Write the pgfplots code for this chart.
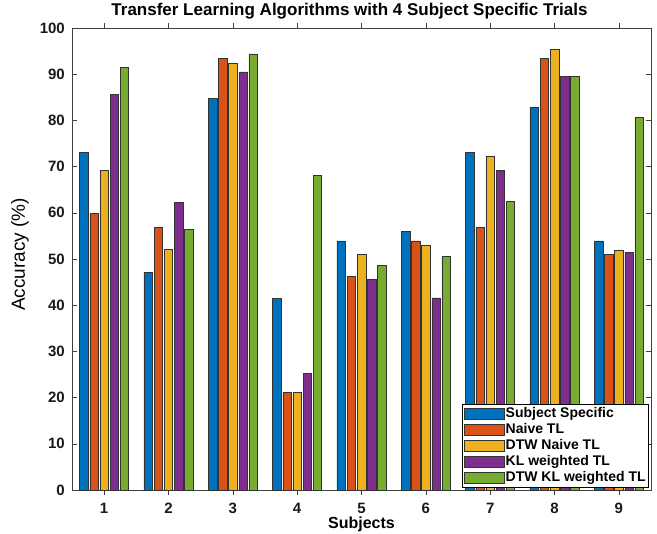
\documentclass[border=0pt]{standalone}
\usepackage{fontspec}
\setmainfont{Liberation Sans}
\usepackage{pgfplots}
\pgfplotsset{compat=1.18}
\definecolor{c1}{rgb}{0,0.447,0.741}
\definecolor{c2}{rgb}{0.85,0.325,0.098}
\definecolor{c3}{rgb}{0.929,0.694,0.125}
\definecolor{c4}{rgb}{0.494,0.184,0.556}
\definecolor{c5}{rgb}{0.466,0.674,0.188}
\begin{document}
\begin{tikzpicture}
\begin{axis}[
  scale only axis, width=579bp, height=462bp,
  xmin=0.5, xmax=9.5, ymin=0, ymax=100,
  xtick={1,...,9}, ytick={0,10,...,100},
  tick align=inside, tick pos=both,
  major tick length=5bp,
  axis line style={draw=black!75, line width=0.6bp},
  every tick/.style={draw=black!75, line width=0.6bp},
  /pgf/number format/assume math mode=true,
  ticklabel style={font=\fontsize{15bp}{17bp}\selectfont\bfseries, text=black!90},
  xticklabel style={anchor=north, inner sep=0pt, yshift=-7.5bp},
  yticklabel style={anchor=east, inner sep=0pt, xshift=-7bp},
  title={Transfer Learning Algorithms with 4 Subject Specific Trials},
  title style={font=\fontsize{17bp}{19bp}\selectfont\bfseries, at={(axis description cs:0.5,1)}, anchor=south, inner sep=0pt, yshift=3bp, xshift=-12bp},
  xlabel={Subjects},
  xlabel style={font=\fontsize{16bp}{18bp}\selectfont\bfseries, at={(axis description cs:0.5,0)}, anchor=north, inner sep=0pt, yshift=-26.5bp},
  ylabel={Accuracy (\%)},
  ylabel style={font=\fontsize{19bp}{21bp}\selectfont, at={(axis description cs:-0.0898,0.51)}, anchor=center, inner sep=0pt},
  ybar, bar width=0.132,
  legend style={at={(axis description cs:1,0)}, anchor=south east, xshift=-2bp, yshift=2bp,
    draw=black, line width=0.6bp, inner sep=1.5bp, row sep=0bp,
    font=\fontsize{14bp}{16bp}\selectfont\bfseries,
    nodes={inner sep=1.5bp, text height=10bp, text depth=3bp},
    cells={anchor=west}},
  legend image code/.code={\draw[#1, draw=black!80, line width=0.5bp] (0bp,-5.5bp) rectangle (40bp,6bp);},
]
\addplot[fill=c1, draw=black!80, line width=0.5bp, bar shift=-0.316] coordinates {(1,73.1) (2,47.1) (3,84.7) (4,41.4) (5,53.9) (6,55.9) (7,73.1) (8,82.9) (9,53.9)};
\addplot[fill=c2, draw=black!80, line width=0.5bp, bar shift=-0.158] coordinates {(1,59.8) (2,56.9) (3,93.5) (4,21.1) (5,46.2) (6,53.9) (7,56.9) (8,93.5) (9,51.0)};
\addplot[fill=c3, draw=black!80, line width=0.5bp, bar shift=0] coordinates {(1,69.2) (2,52.1) (3,92.4) (4,21.1) (5,51.0) (6,53.0) (7,72.3) (8,95.4) (9,52.0)};
\addplot[fill=c4, draw=black!80, line width=0.5bp, bar shift=0.158] coordinates {(1,85.6) (2,62.2) (3,90.5) (4,25.3) (5,45.6) (6,41.6) (7,69.2) (8,89.6) (9,51.5)};
\addplot[fill=c5, draw=black!80, line width=0.5bp, bar shift=0.316] coordinates {(1,91.5) (2,56.4) (3,94.4) (4,68.1) (5,48.6) (6,50.5) (7,62.5) (8,89.6) (9,80.6)};
\legend{Subject Specific, Naive TL, DTW Naive TL, KL weighted TL, DTW KL weighted TL}
\coordinate (sw) at (rel axis cs:0,0);
\coordinate (ne) at (rel axis cs:1,1);
\end{axis}
\pgfresetboundingbox
\path[use as bounding box] ([shift={(-72bp,-43bp)}]sw) rectangle ([shift={(6bp,28bp)}]ne);
\end{tikzpicture}
\end{document}
